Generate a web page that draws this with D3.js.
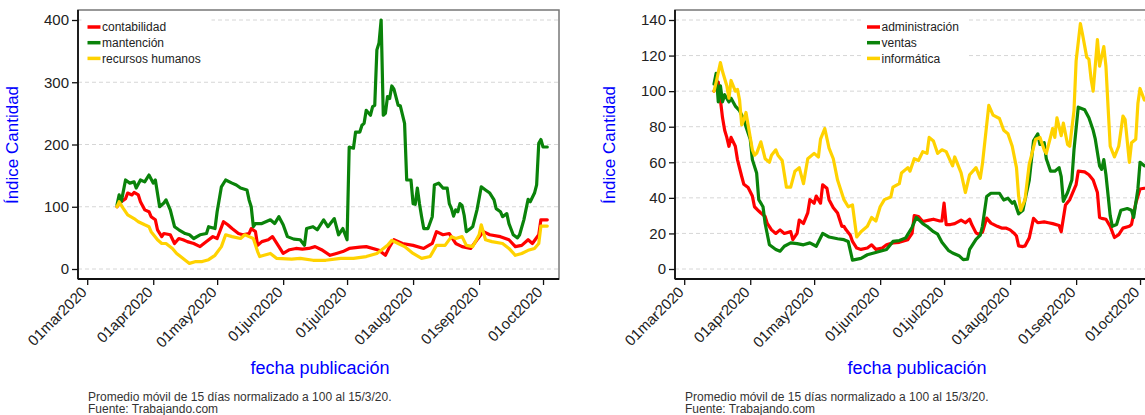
<!DOCTYPE html>
<html><head><meta charset="utf-8">
<script src="https://cdn.jsdelivr.net/npm/d3@7"></script>
<style>
body{margin:0;background:#fff;}
text{font-family:Arial,"Liberation Sans",sans-serif;}
</style>
</head><body>
<svg id="c" width="1145" height="415"></svg>
<script>
// ---------- DATA (day = days after 01mar2020, value = índice) ----------
const tickLabels = ["01mar2020","01apr2020","01may2020","01jun2020","01jul2020","01aug2020","01sep2020","01oct2020"];
const tickDays = [0,31,61,92,122,153,184,214];
const leftYTicks = [0,100,200,300,400];
const rightYTicks = [0,20,40,60,80,100,120,140];

const contabilidad = [[14,100],[16,108],[18,113],[19,122],[21,119],[22,123],[24,119],[25,108],[27,95],[29,92],[30,84],[32,79],[33,63],[35,52],[36,57],[39,55],[41,41],[43,49],[45,47],[47,44],[50,41],[53,36],[56,44],[59,52],[61,49],[64,76],[66,71],[68,65],[71,57],[73,55],[76,57],[77,65],[79,60],[80,38],[82,44],[85,47],[87,52],[90,36],[92,25],[95,31],[98,33],[101,32],[104,33],[107,36],[110,31],[114,22],[117,25],[120,28],[123,33],[128,35],[131,36],[137,30],[140,22],[142,36],[144,47],[148,41],[153,38],[158,33],[162,41],[164,60],[167,55],[170,57],[173,41],[176,36],[180,33],[183,47],[186,60],[189,55],[194,52],[198,47],[201,36],[204,38],[207,47],[209,41],[212,55],[213,79],[216,79]];
const mantencion = [[14,103],[15,119],[16,108],[18,143],[20,138],[22,140],[23,130],[25,143],[27,140],[29,151],[31,138],[32,143],[34,100],[36,106],[37,111],[39,95],[41,68],[43,63],[46,57],[48,55],[50,49],[53,55],[56,57],[57,68],[60,65],[61,92],[63,132],[65,143],[68,138],[70,135],[72,130],[75,127],[76,111],[77,100],[78,68],[79,73],[82,73],[86,79],[88,73],[90,84],[92,71],[94,52],[97,48],[100,47],[102,38],[103,65],[106,68],[108,63],[111,79],[113,68],[116,81],[118,55],[120,65],[122,47],[123,196],[125,194],[126,220],[128,220],[129,231],[130,234],[131,255],[133,247],[134,261],[135,263],[136,352],[137,363],[138,400],[139,247],[140,250],[141,277],[142,274],[143,294],[144,289],[146,263],[147,262],[149,234],[150,143],[152,143],[153,105],[154,104],[155,130],[156,105],[157,84],[158,65],[160,65],[162,84],[163,135],[165,138],[167,130],[169,130],[170,105],[171,97],[172,85],[173,95],[174,92],[175,105],[176,102],[177,86],[178,60],[180,65],[181,68],[183,95],[185,132],[187,127],[189,122],[191,111],[192,97],[194,92],[195,84],[197,89],[198,73],[200,55],[202,50],[203,55],[205,79],[207,112],[208,108],[210,122],[211,135],[212,202],[213,208],[214,196],[216,196]];
const recursosHumanos = [[14,100],[15,108],[17,97],[19,87],[22,81],[24,76],[27,71],[29,68],[30,60],[33,47],[35,41],[37,41],[40,33],[42,25],[45,17],[48,9],[51,12],[54,12],[57,15],[60,22],[63,36],[65,55],[68,52],[72,49],[74,55],[76,52],[78,49],[80,28],[81,20],[83,22],[86,25],[89,17],[96,16],[100,17],[106,14],[112,14],[119,17],[125,17],[131,20],[136,25],[138,30],[141,38],[143,46],[146,41],[149,36],[153,25],[157,17],[161,20],[164,38],[168,38],[171,52],[173,49],[176,52],[178,38],[181,36],[184,55],[185,71],[187,47],[190,44],[195,41],[198,33],[201,22],[204,25],[207,30],[210,33],[212,41],[213,69],[216,69]];

const administracion = [[14,100],[16,105],[17,95],[18,85],[19,78],[20,74],[21,69],[22,74],[24,69],[25,61.5],[27,52],[28,47.6],[30,45.8],[32,41],[33,35],[35,32.6],[36,31.5],[38,29.5],[39,25.6],[41,22],[43,20],[45,22],[47,20],[50,21],[51,16.5],[53,20],[54,27.5],[56,25.6],[58,31.5],[59,39],[61,37],[62,41],[64,37],[65,47.3],[67,45.4],[68,39],[70,34.5],[72,31.5],[74,24],[75,24],[76,22],[78,19],[79,15.5],[81,11.8],[83,11],[86,11.8],[88,13.6],[90,11],[93,11.8],[95,13.6],[98,14.7],[101,15],[105,16.5],[107,20],[108,30],[110,29.5],[112,26.7],[115,27.5],[117,28],[120,27],[121,27],[122,37],[123,25],[125,25],[127,25.5],[130,27.5],[132,26],[134,28],[135,25],[137,20.3],[138,19.6],[140,20.6],[142,28.6],[144,25.8],[147,24],[149,23],[151,23],[153,22],[155,20],[156,18.5],[157,13],[159,12.6],[160,13],[162,17.5],[164,28.5],[166,26],[169,26.5],[171,26],[173,25.5],[176,24.5],[177,21],[179,36],[181,39],[184,47.5],[185,55],[188,54.6],[190,53],[192,50],[194,43],[195,29],[196,28.5],[198,28],[200,24],[202,17.7],[204,19.3],[206,23],[209,24],[210,25],[212,37],[214,45],[216,45.4]];
const ventas = [[14,104],[15,110],[16,94],[17,103],[18,94],[19,98],[21,94],[22,96],[24,91.6],[26,89],[28,84],[29,80],[31,73],[32,61.5],[34,54],[35,39],[37,35],[38,25.6],[40,13.6],[43,11],[45,10],[47,12.8],[50,14.7],[53,14.3],[56,13.6],[59,14.7],[62,12.8],[65,20],[68,18],[72,17],[75,16.5],[77,15.5],[79,5],[83,6],[86,8],[89,9],[92,10],[95,11],[98,15.5],[101,16],[104,17.5],[107,23.5],[109,29],[112,25.5],[114,24],[117,21],[119,19.6],[121,15],[124,10.5],[126,9],[129,7.5],[131,5.3],[133,5.5],[134,11],[137,16.7],[139,19],[140,24],[142,40.7],[144,42.6],[148,42.6],[150,38.8],[152,39.8],[154,37],[155,38],[157,31],[159,33],[160,38.8],[162,50],[164,72],[166,76],[167,70],[169,71],[170,62],[172,55],[174,55],[176,57],[177,52],[178,38],[180,43],[182,50],[183,67],[185,91],[188,89.5],[190,85],[192,78],[193,73],[195,58],[196,56],[197,61.5],[198,53],[200,30],[201,24],[203,25],[205,33],[208,34],[210,33],[211,29],[213,45],[214,60],[216,58]];
const informatica = [[14,100],[15,105],[17,116],[18,111],[20,103],[21,96],[22,106],[24,100],[25,101],[26,95],[27,81],[28,84],[29,88],[31,74],[32,67],[33,64],[34,65],[36,71.5],[38,62],[40,60],[41,64],[43,67],[44,64],[46,61],[48,46],[50,46],[52,55],[54,57],[56,48],[58,62],[61,65],[63,63],[64,73],[66,79],[68,68],[70,62],[72,50],[75,39],[77,35],[79,36],[81,18],[83,21],[86,24],[88,29],[90,27],[92,35],[94,39],[97,40.5],[98,46],[101,48],[102,54],[105,57],[106,55],[108,62],[110,61],[112,66],[114,65],[115,74],[117,72],[119,65],[121,67],[123,66],[126,58],[127,63],[130,54],[132,43],[134,53],[137,57],[139,51],[140,59],[143,92],[145,86.5],[148,84.6],[150,78],[152,76],[154,69],[156,57],[157,41],[158,33],[160,39],[162,59],[165,73],[167,74],[169,67],[170,65],[173,79],[174,74],[175,85],[177,75],[178,82],[180,70],[181,69],[183,89],[184,117],[186,138],[187,132],[189,119],[190,118],[191,107],[192,100],[194,129],[195,114],[197,125],[198,114],[199,91],[200,69],[202,63],[204,69],[206,86],[207,84],[209,60],[210,71],[212,73],[213,93],[214,101.5],[216,95]];

const leftNames = ["contabilidad","mantención","recursos humanos"];
const rightNames = ["administración","ventas","informática"];
const seriesColors = ["#ff0000","#0a830a","#ffd200"];

// ---------- DRAW ----------
const svg = d3.select("#c");
const base = Date.UTC(2020,2,1);
const toDate = d => new Date(base + d*864e5);
const PW = 481, TOP = 10, BOTTOM = 279;

function panel(cfg){
  const g = svg.append("g");
  const L = cfg.left;
  const x = d3.scaleUtc().domain([toDate(-4.32), toDate(221.5)]).range([L, L+PW]);
  const y = d3.scaleLinear().domain([0, cfg.ymax]).range([269, 20]);

  // grid
  g.append("g").selectAll("line").data(cfg.yticks).join("line")
    .attr("x1", L).attr("x2", L+PW).attr("y1", d=>y(d)).attr("y2", d=>y(d))
    .attr("stroke","#d6d6d6").attr("stroke-width",1).attr("stroke-dasharray","4,3");

  // frame
  g.append("rect").attr("x",L).attr("y",TOP).attr("width",PW).attr("height",BOTTOM-TOP)
    .attr("fill","none").attr("stroke","#777").attr("stroke-width",1.5);

  // lines
  const line = d3.line().x(d=>x(toDate(d[0]))).y(d=>y(d[1]));
  cfg.series.forEach((s,i)=>{
    g.append("path").datum(s).attr("d", line).attr("fill","none")
      .attr("stroke", seriesColors[i]).attr("stroke-width",3.2)
      .attr("stroke-linejoin","round").attr("stroke-linecap","round");
  });

  // legend
  const lg = g.append("g");
  lg.append("rect").attr("x",cfg.legX-6).attr("y",TOP+2).attr("width",cfg.legW).attr("height",56).attr("fill","#fff");
  cfg.names.forEach((n,i)=>{
    const yy = 27 + i*15.7;
    lg.append("line").attr("x1",cfg.legX).attr("x2",cfg.legX+13).attr("y1",yy).attr("y2",yy)
      .attr("stroke",seriesColors[i]).attr("stroke-width",3.5);
    lg.append("text").attr("x",cfg.legX+14.5).attr("y",yy+4.3).attr("font-size",12).attr("fill","#222").text(n);
  });

  // y axis
  const ya = g.append("g").attr("transform",`translate(${L},0)`)
    .call(d3.axisLeft(y).tickValues(cfg.yticks).tickSize(6).tickPadding(3).tickFormat(d3.format("d")));
  ya.select(".domain").remove();
  ya.selectAll(".tick line").attr("stroke","#111").attr("stroke-width",1.3);
  ya.selectAll("text").attr("font-size",15).attr("fill","#222").attr("font-family","Arial, 'Liberation Sans', sans-serif");

  // x axis
  const xa = g.append("g").attr("transform",`translate(0,${BOTTOM})`)
    .call(d3.axisBottom(x).tickValues(tickDays.map(toDate)).tickSize(6).tickFormat((d,i)=>tickLabels[i]));
  xa.select(".domain").remove();
  xa.selectAll(".tick line").attr("stroke","#111").attr("stroke-width",1.3);
  xa.selectAll("text").attr("font-size",15).attr("fill","#222").attr("font-family","Arial, 'Liberation Sans', sans-serif")
    .attr("y",0).attr("dy",0).attr("text-anchor","end")
    .attr("transform","translate(0,14) rotate(-45)");

  // axis lines
  g.append("line").attr("x1",L).attr("x2",L).attr("y1",TOP).attr("y2",BOTTOM).attr("stroke","#111").attr("stroke-width",1.8);
  g.append("line").attr("x1",L).attr("x2",L+PW).attr("y1",BOTTOM).attr("y2",BOTTOM).attr("stroke","#111").attr("stroke-width",1.8);

  // titles
  g.append("text").attr("transform",`translate(${L-60},145) rotate(-90)`).attr("text-anchor","middle")
    .attr("font-size",17).attr("fill","#0000ff").text("Índice Cantidad");
  g.append("text").attr("x",L+242).attr("y",374).attr("text-anchor","middle")
    .attr("font-size",18).attr("fill","#0000ff").text("fecha publicación");
  g.append("text").attr("x",L+10).attr("y",401).attr("font-size",12).attr("fill","#333")
    .text("Promedio móvil de 15 días normalizado a 100 al 15/3/20.");
  g.append("text").attr("x",L+10).attr("y",413).attr("font-size",12).attr("fill","#333")
    .text("Fuente: Trabajando.com");
}

panel({left:78, ymax:400, yticks:leftYTicks, series:[contabilidad, mantencion, recursosHumanos], names:leftNames, legX:87.5, legW:130});
panel({left:675, ymax:140, yticks:rightYTicks, series:[administracion, ventas, informatica], names:rightNames, legX:867, legW:106});
</script>
</body></html>
